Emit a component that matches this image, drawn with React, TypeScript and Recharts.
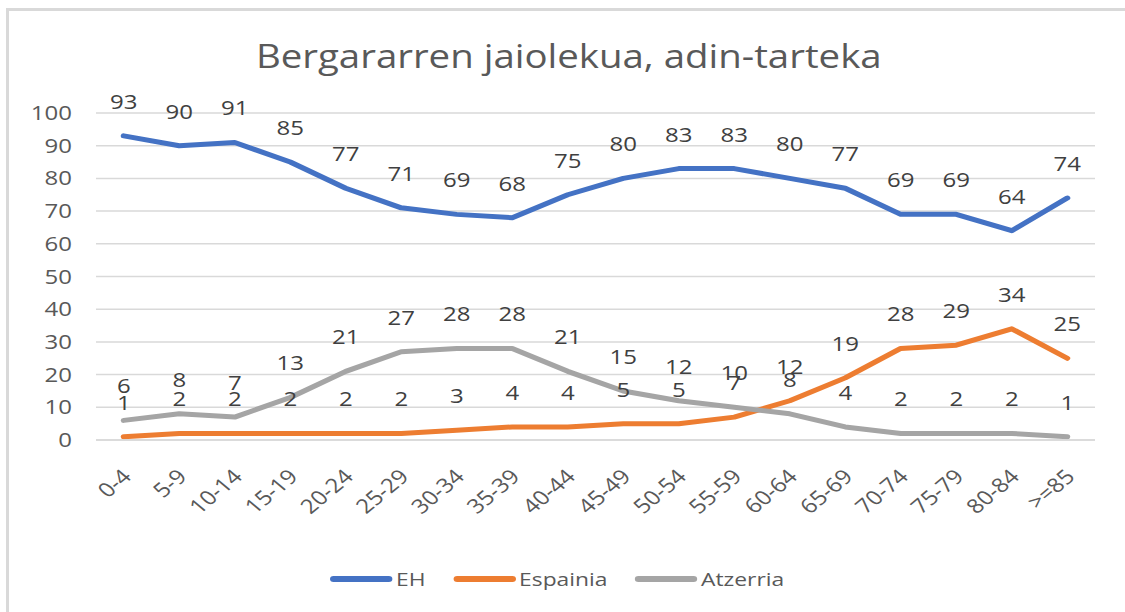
import { LineChart, Line, XAxis, YAxis, CartesianGrid, LabelList } from 'recharts';

const categories = ['0-4', '5-9', '10-14', '15-19', '20-24', '25-29', '30-34', '35-39', '40-44', '45-49', '50-54', '55-59', '60-64', '65-69', '70-74', '75-79', '80-84', '>=85'];
const eh = [93, 90, 91, 85, 77, 71, 69, 68, 75, 80, 83, 83, 80, 77, 69, 69, 64, 74];
const espainia = [1, 2, 2, 2, 2, 2, 3, 4, 4, 5, 5, 7, 12, 19, 28, 29, 34, 25];
const atzerria = [6, 8, 7, 13, 21, 27, 28, 28, 21, 15, 12, 10, 8, 4, 2, 2, 2, 1];
const yTicks = [0, 10, 20, 30, 40, 50, 60, 70, 80, 90, 100];

const FONT = '"Open Sans", sans-serif';
// the reference looks horizontally stretched, so draw narrower and stretch it
const STRETCH = 1.2;
const W = 1125 / STRETCH;

const SERIES = [
    { key: 'eh', name: 'EH', color: '#4472C4' },
    { key: 'espainia', name: 'Espainia', color: '#ED7D31' },
    { key: 'atzerria', name: 'Atzerria', color: '#A5A5A5' },
];

const data = categories.map((c, i) => ({
    cat: c,
    eh: eh[i],
    espainia: espainia[i],
    atzerria: atzerria[i],
}));

const AgeTick = ({ x, y, payload }: any) => {
    const ax = x + 7.5;
    const ay = y + 38;
    return (
        <text
            x={ax}
            y={ay}
            transform={`rotate(-45 ${ax} ${ay})`}
            textAnchor="end"
            fill="#595959"
            fontSize={20}
            fontFamily={FONT}
        >
            {payload.value}
        </text>
    );
};

export default function App() {
    return (
        <div style={{ position: 'absolute', left: 0, top: 0, width: 1125, height: 612, background: '#fff', overflow: 'hidden' }}>
            <div style={{ position: 'absolute', left: 6, top: 8, width: 1125, height: 612, borderTop: '3px solid #d9d9d9', borderLeft: '3px solid #d9d9d9' }} />
            <div style={{ position: 'absolute', left: 0, top: 0, width: W, height: 612, transform: `scaleX(${STRETCH})`, transformOrigin: '0 0' }}>
                <div style={{ position: 'absolute', left: 0, top: 40, width: 948, textAlign: 'center', fontFamily: FONT, fontSize: 32, lineHeight: '32px', color: '#595959', whiteSpace: 'nowrap' }}>
                    Bergararren jaiolekua, adin-tarteka
                </div>
                <div style={{ position: 'absolute', left: 0, top: 0 }}>
                    <LineChart width={W} height={612} data={data} margin={{ top: 113, right: 25, bottom: 112, left: 20 }}>
                        <CartesianGrid horizontal vertical={false} stroke="#d9d9d9" strokeWidth={1.5} />
                        <XAxis
                            dataKey="cat"
                            scale="band"
                            height={60}
                            axisLine={{ stroke: '#d9d9d9', strokeWidth: 1.5 }}
                            tickLine={false}
                            tickSize={0}
                            tickMargin={0}
                            interval={0}
                            tick={<AgeTick />}
                        />
                        <YAxis
                            domain={[0, 100]}
                            ticks={yTicks}
                            interval={0}
                            width={60}
                            axisLine={false}
                            tickLine={false}
                            tickSize={0}
                            tickMargin={20}
                            tick={{ fill: '#595959', fontSize: 20, fontFamily: FONT }}
                        />
                        {SERIES.map((s) => (
                            <Line
                                key={s.key}
                                dataKey={s.key}
                                name={s.name}
                                type="linear"
                                stroke={s.color}
                                strokeWidth={5}
                                strokeLinecap="round"
                                strokeLinejoin="round"
                                dot={false}
                                activeDot={false}
                                isAnimationActive={false}
                            >
                                <LabelList
                                    dataKey={s.key}
                                    position="top"
                                    offset={27}
                                    fill="#404040"
                                    fontSize={20}
                                    fontFamily={FONT}
                                />
                            </Line>
                        ))}
                    </LineChart>
                </div>
                <div style={{ position: 'absolute', left: 275, top: 566, height: 26, display: 'flex', alignItems: 'center', fontFamily: FONT, fontSize: 19, color: '#595959' }}>
                    {SERIES.map((s) => (
                        <div key={s.key} style={{ display: 'flex', alignItems: 'center', marginRight: 23 }}>
                            <span style={{ display: 'inline-block', width: 52, height: 6, borderRadius: 3, background: s.color, marginRight: 3 }} />
                            <span>{s.name}</span>
                        </div>
                    ))}
                </div>
            </div>
        </div>
    );
}
